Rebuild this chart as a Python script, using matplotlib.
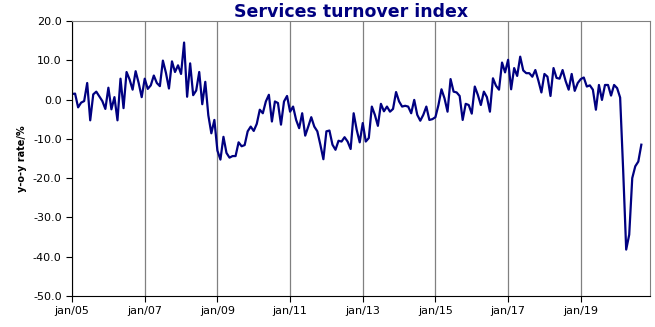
import matplotlib
matplotlib.use('Agg')
import matplotlib.pyplot as plt

# y-o-y rate, monthly, jan 2005 - sep 2020
y2005 = [1.4, 1.5, -2.0, -0.8, -0.4, 4.2, -5.3, 1.3, 2.0, 0.8, -0.4, -2.4]
y2006 = [3.0, -2.5, 0.6, -5.3, 5.3, -2.2, 7.0, 5.1, 2.5, 7.2, 4.2, 0.6]
y2007 = [5.3, 2.7, 3.6, 6.1, 4.2, 3.4, 9.9, 6.8, 2.8, 9.7, 7.0, 8.7]
y2008 = [6.5, 14.5, 0.7, 9.2, 1.1, 2.3, 7.0, -1.2, 4.5, -4.0, -8.6, -5.2]
y2009 = [-13.0, -15.3, -9.5, -13.6, -14.8, -14.4, -14.4, -10.9, -11.9, -11.6, -8.1, -6.9]
y2010 = [-8.0, -6.2, -2.6, -3.5, -0.5, 1.2, -5.6, -0.5, -0.9, -6.4, -0.5, 0.9]
y2011 = [-3.1, -1.8, -5.2, -7.3, -3.5, -9.2, -6.9, -4.5, -6.9, -8.1, -11.5, -15.2]
y2012 = [-8.1, -7.9, -11.5, -12.8, -10.5, -10.7, -9.6, -10.7, -12.6, -3.5, -7.7, -10.9]
y2013 = [-6.0, -10.7, -9.8, -1.8, -3.9, -6.7, -1.1, -3.0, -1.8, -3.1, -2.4, 1.9]
y2014 = [-0.5, -1.8, -1.6, -1.8, -3.5, -0.1, -3.9, -5.4, -3.9, -1.8, -5.2, -5.0]
y2015 = [-4.5, -1.4, 2.6, 0.3, -3.1, 5.2, 2.0, 1.8, 0.9, -5.2, -1.1, -1.4]
y2016 = [-3.6, 3.3, 1.2, -1.4, 2.0, 0.6, -3.1, 5.4, 3.5, 2.5, 9.4, 6.9]
y2017 = [10.1, 2.6, 8.0, 6.0, 10.9, 7.4, 6.7, 6.7, 5.8, 7.5, 4.8, 1.8]
y2018 = [6.5, 5.8, 0.9, 8.0, 5.5, 5.3, 7.5, 4.7, 2.5, 6.5, 2.2, 4.2]
y2019 = [5.2, 5.6, 3.3, 3.6, 2.5, -2.6, 3.7, -0.1, 3.7, 3.7, 1.0, 3.7]
y2020 = [2.9, 0.5, -18.0, -38.2, -34.4, -20.0, -17.0, -15.8, -11.5]

rate = (y2005 + y2006 + y2007 + y2008 + y2009 + y2010 + y2011 + y2012
        + y2013 + y2014 + y2015 + y2016 + y2017 + y2018 + y2019 + y2020)
months = list(range(len(rate)))

tick_pos = [0, 24, 48, 72, 96, 120, 144, 168]
tick_labels = ['jan/05', 'jan/07', 'jan/09', 'jan/11', 'jan/13', 'jan/15', 'jan/17', 'jan/19']

fig = plt.figure(figsize=(6.55, 3.27), dpi=100)
ax = fig.add_axes([0.110, 0.095, 0.883, 0.841])

ax.plot(months, rate, color='#000080', lw=1.6)

ax.set_xlim(0, 191)
ax.set_ylim(-50, 20)
ax.set_xticks(tick_pos)
ax.set_xticklabels(tick_labels, fontsize=8)
ax.set_yticks(range(-50, 21, 10))
ax.set_yticklabels(['%.1f' % v for v in range(-50, 21, 10)], fontsize=8)
ax.tick_params(direction='out', length=4, width=0.8, colors='black')
ax.xaxis.grid(True, color='#808080', lw=0.9)
ax.set_axisbelow(True)
for s in ax.spines.values():
    s.set_linewidth(0.8)
    s.set_color('#808080')
ax.spines['left'].set_color('black')
ax.spines['bottom'].set_color('black')

ax.set_ylabel('y-o-y rate/%', fontsize=7, fontweight='bold', labelpad=4)
# title sits just above the frame (it is clipped at the top in the source)
fig.text(0.536, 1 - 17 / 327, 'Services turnover index', ha='center', va='baseline',
         fontsize=12.5, fontweight='bold', color='#000080')

plt.savefig('out.png')
